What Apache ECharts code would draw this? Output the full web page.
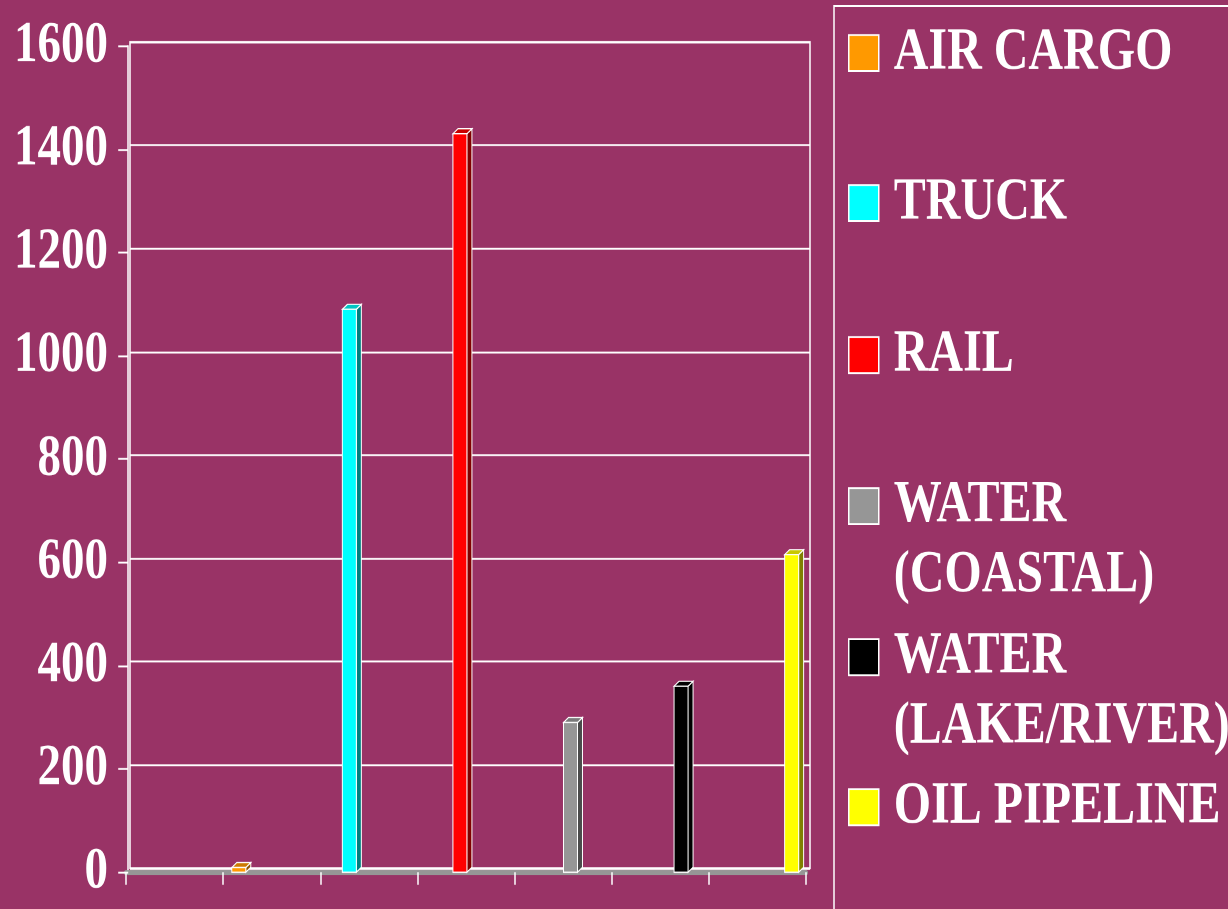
<!DOCTYPE html>
<html>
<head>
	<meta charset="utf-8">
	<title>Freight by mode</title>
	<script type="text/javascript" src="https://cdn.jsdelivr.net/npm/echarts@6/dist/echarts.min.js"></script>
	<style>
		html { overflow: hidden; }
		html, body { margin: 0; padding: 0; background: #993366; }
		body { width: 1228px; height: 909px; }
		/* the original slide was stretched vertically, so draw at 727px and scale up to 909 */
		#chart { width: 1228px; height: 727px; transform: scaleY(1.2503); transform-origin: 0 0; }
	</style>
</head>
<body>
<div id="chart"></div>
<script type="text/javascript">
var modes = ['AIR CARGO', 'TRUCK', 'RAIL', 'WATER (COASTAL)', 'WATER (LAKE/RIVER)', 'OIL PIPELINE'];
var values = [9, 1090, 1430, 290, 360, 615];
var xTickSlots = ['a', 'b', 'c', 'd', 'e', 'f', 'g'];

var faceColors = ['#ff9900', '#00ffff', '#ff0000', '#969696', '#000000', '#ffff00'];
var sideColors = ['#8f5500', '#008080', '#800000', '#4b4b4b', '#000000', '#808000'];
var topColors = ['#cc7a00', '#00c4c4', '#c80000', '#7a7a7a', '#000000', '#c8c800'];

var FONT = '"Liberation Serif", "Times New Roman", serif';
var LH = 56;
var legendCenters = [42.4, 162.4, 284, 404.8, 525.6, 645.6];

function draw_modes() {
	var myChart = echarts.init(document.getElementById('chart'), null, { devicePixelRatio: 2 });

	function renderBar(params, api) {
		var i = params.seriesIndex;
		var top = api.coord([api.value(0), api.value(1)]);
		var base = api.coord([api.value(0), 0]);
		var w = 14, dx = 5, dy = -4;
		var l = top[0] - w / 2, r = top[0] + w / 2;
		var line = { stroke: '#fff', lineWidth: 1 };
		return {
			type: 'group',
			children: [
				{ type: 'polygon', shape: { points: [[r, top[1]], [r + dx, top[1] + dy], [r + dx, base[1] + dy], [r, base[1]]] },
				  style: Object.assign({ fill: sideColors[i] }, line) },
				{ type: 'polygon', shape: { points: [[l, top[1]], [l + dx, top[1] + dy], [r + dx, top[1] + dy], [r, top[1]]] },
				  style: Object.assign({ fill: topColors[i] }, line) },
				{ type: 'rect', shape: { x: l, y: top[1], width: w, height: base[1] - top[1] },
				  style: Object.assign({ fill: faceColors[i] }, line) }
			]
		};
	}

	var series = modes.map(function (name, i) {
		return {
			name: name,
			type: 'custom',
			xAxisIndex: 2,
			yAxisIndex: 1,
			itemStyle: { color: faceColors[i] },
			renderItem: renderBar,
			data: [[i + 1, values[i]]]
		};
	});

	// two-line names get an empty first line so the square sits beside the first line
	var legends = modes.map(function (name, i) {
		var twoLines = name.indexOf(' (') > 0;
		return {
			data: [name],
			orient: 'vertical',
			left: 848,
			top: legendCenters[i] - (twoLines ? 1.5 : 0.5) * LH,
			padding: 0,
			icon: 'rect',
			itemWidth: 30,
			itemHeight: 28.8,
			selectedMode: false,
			itemStyle: { borderColor: '#fff', borderWidth: 1.5 },
			formatter: function (n) { return n.indexOf(' (') > 0 ? ' \n' + n.replace(' (', '\n(') : n; },
			textStyle: {
				color: '#fff', fontFamily: FONT, fontWeight: 'bold', fontSize: 48,
				lineHeight: LH, padding: [0, 0, 0, 10]
			}
		};
	});

	var option = {
		backgroundColor: '#993366',
		animation: false,
		graphic: [{
			type: 'rect',
			shape: { x: 834, y: 4.8, width: 500, height: 800 },
			style: { fill: 'none', stroke: '#fff', lineWidth: 1.5 }
		}],
		legend: legends,
		grid: [
			{ left: 130, top: 33.6, width: 680, height: 660.8, show: true, borderColor: '#fff', borderWidth: 1.5 },
			{ left: 126, top: 36.8, width: 680, height: 660.8 }
		],
		xAxis: [
			{ type: 'value', gridIndex: 0, show: false, min: 0, max: 1 },
			{
				type: 'category', gridIndex: 1, position: 'bottom', data: xTickSlots,
				axisLine: { show: true, onZero: false, lineStyle: { color: '#969696', width: 4 } },
				axisTick: { show: true, interval: 0, length: 10, lineStyle: { color: '#fff', width: 1.5 } },
				axisLabel: { show: false }
			},
			{ type: 'value', gridIndex: 1, position: 'bottom', show: false, min: -0.02, max: 6.13 }
		],
		yAxis: [
			{
				type: 'value', gridIndex: 0, min: 0, max: 1600, interval: 200,
				axisLine: { show: false }, axisTick: { show: false }, axisLabel: { show: false },
				splitLine: { lineStyle: { color: '#fff', width: 1.5 } }
			},
			{
				type: 'value', gridIndex: 1, min: 0, max: 1600, interval: 200,
				axisLine: { show: true, lineStyle: { color: '#fff', width: 1.5 } },
				axisTick: { show: true, length: 10, lineStyle: { color: '#fff', width: 1.5 } },
				axisLabel: {
					color: '#fff', fontFamily: FONT, fontWeight: 'bold', fontSize: 47, margin: 18,
					formatter: function (v) { return String(v); }
				},
				splitLine: { show: false }
			}
		],
		series: series
	};

	myChart.setOption(option);
}
draw_modes();
</script>
</body>
</html>
